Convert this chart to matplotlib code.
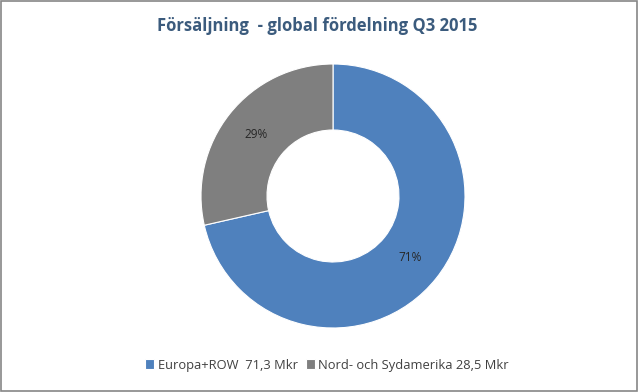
import matplotlib.pyplot as plt
import numpy as np
from matplotlib.patches import Rectangle

labels = ['Europa+ROW  71,3 Mkr', 'Nord- och Sydamerika 28,5 Mkr']
values = [71.3, 28.5]
colors = ['#4F81BD', '#7F7F7F']

plt.rcParams['font.family'] = ['Open Sans', 'DejaVu Sans']

fig = plt.figure(figsize=(6.38, 3.92), dpi=100)
fig.patch.set_facecolor('white')

# outer chart border
fig.patches.append(Rectangle((0.0015, 0.0025), 0.997, 0.995, transform=fig.transFigure,
                             fill=False, edgecolor='#868686', linewidth=1.2))

ax = fig.add_axes([(333 - 132) / 638, (392 - 328) / 392, 264 / 638, 264 / 392])
wedges, texts = ax.pie(values, colors=colors, startangle=90, counterclock=False,
                       radius=1, wedgeprops=dict(width=0.5, edgecolor='white', linewidth=0.8))
ax.set_xlim(-1, 1)
ax.set_ylim(-1, 1)
ax.set_aspect('equal')

total = sum(values)
start = 90
for v in values:
    frac = v / total
    mid = np.deg2rad(start - frac * 360 / 2)
    ax.text(0.75 * np.cos(mid), 0.75 * np.sin(mid), f'{round(frac * 100)}%',
            ha='center', va='center', fontsize=8.5, color='#262626')
    start -= frac * 360

fig.text(317 / 638, 1 - 26 / 392, 'Försäljning  - global fördelning Q3 2015',
         ha='center', va='center', fontsize=12, fontweight='bold', color='#3B5B7D')

fig.legend(wedges, labels, loc='center', bbox_to_anchor=(327 / 638, 1 - 365 / 392),
           ncol=2, frameon=False, fontsize=9.3, handlelength=0.7, handleheight=0.7,
           handletextpad=0.3, columnspacing=0.6, labelcolor='#404040')

fig.savefig('out.png', dpi=100)
